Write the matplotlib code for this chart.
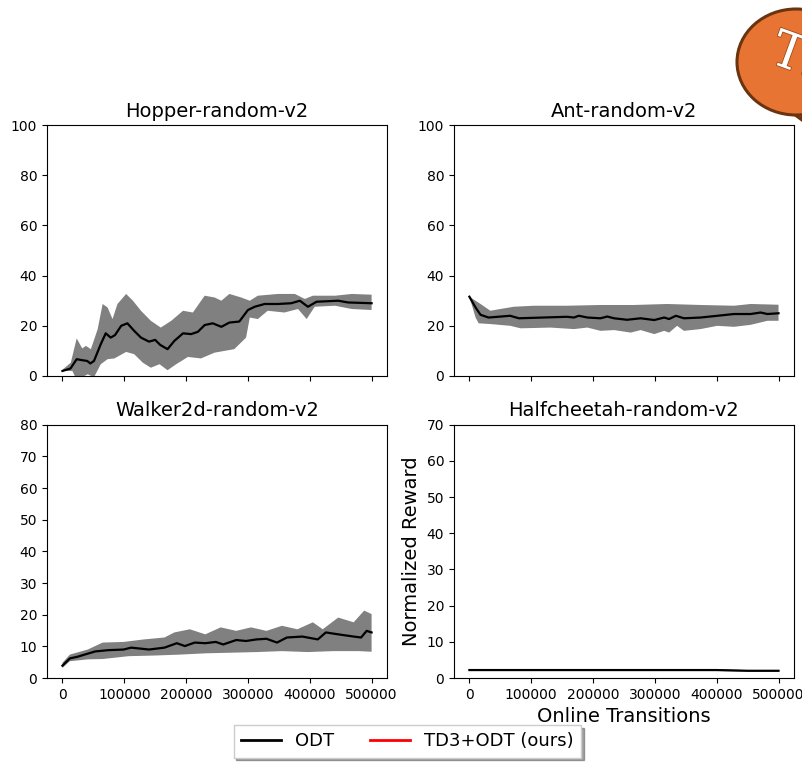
import matplotlib
matplotlib.use("Agg")
import matplotlib.pyplot as plt
import matplotlib.patheffects as pe
from matplotlib.lines import Line2D
from matplotlib.patches import Ellipse, Polygon
import numpy as np

# x values are in thousands of online transitions
hopper_mean_x = [0, 13, 23, 32, 40, 45, 51, 62, 70, 78, 85, 95, 105, 116, 127, 140, 150, 158, 170, 181,
                 195, 208, 219, 230, 243, 257, 270, 286, 300, 311, 327, 349, 370, 384, 397, 411, 446, 462, 500]
hopper_mean = [2, 3, 6.7, 6.3, 6, 5, 6, 12.7, 17, 15.3, 16.3, 20, 21, 18, 15.3, 13.7, 14.4, 12.4, 10.7, 14,
               17, 16.7, 17.6, 20.3, 21, 19.6, 21.3, 21.7, 26.3, 27.6, 28.7, 28.7, 29, 30, 27.6, 29.6, 30, 29.3, 29]
hopper_up_x = [0, 13.5, 23, 32, 38, 46, 57, 65, 73, 81, 89, 103, 114, 127, 143, 159, 176, 195, 211, 230,
               246, 257, 270, 289, 303, 316, 349, 376, 392, 405, 441, 468, 500]
hopper_up = [2.5, 5.3, 15, 11, 12, 10.7, 18.7, 28.7, 27.3, 22.7, 28.7, 32.7, 30, 26, 22, 19.3, 22, 26, 25.3, 32,
             31.3, 30, 32.7, 31.3, 30, 32, 32.7, 32.7, 30.7, 32, 32, 32.7, 32.4]
hopper_lo_x = [0, 16, 23, 41, 51, 62, 73, 84, 103, 116, 130, 143, 157, 170, 184, 203, 224, 246, 278, 297,
               303, 316, 332, 359, 381, 395, 408, 441, 468, 500]
hopper_lo = [2, 2, -1.5, 0.7, -0.5, 4.7, 6.7, 7, 9.6, 8.7, 5.3, 3.3, 4.7, 2.3, 4.7, 7.6, 7, 9.3, 10.7, 15.3,
             23.3, 22.7, 26, 25.3, 26.7, 22.7, 27.6, 28, 26.7, 26.3]

ant_mean_x = [0, 10, 18, 31, 66, 80, 158, 169, 177, 191, 212, 223, 234, 255, 277, 299, 315, 323, 334, 347,
              374, 401, 428, 455, 471, 482, 500]
ant_mean = [31.6, 27.3, 24.4, 23.3, 24, 23, 23.6, 23.3, 24, 23.3, 23, 23.7, 23, 22.4, 23, 22.3, 23.3, 22.7, 24, 23,
            23.3, 24, 24.7, 24.7, 25.3, 24.7, 25]
ant_up_x = [0, 18, 34, 50, 72, 104, 158, 212, 266, 320, 374, 428, 455, 500]
ant_up = [31.6, 28.7, 26, 26.7, 27.6, 28, 28, 28.3, 28.3, 28.7, 28.3, 28, 28.7, 28.4]
ant_lo_x = [0, 10, 15, 34, 66, 83, 131, 169, 191, 212, 234, 261, 277, 299, 315, 323, 336, 347, 374, 401,
            428, 455, 482, 500]
ant_lo = [31.6, 23.3, 21, 20.7, 20, 19, 19.3, 18.7, 19.3, 18, 18.3, 17.3, 18.3, 16.7, 18, 17.3, 20, 18, 18.7, 20,
          19.6, 20.4, 22, 22]

walker_mean_x = [0, 12, 24, 41, 53, 74, 99, 111, 140, 165, 185, 198, 214, 231, 248, 260, 281, 297, 314, 330,
                 347, 363, 388, 413, 426, 446, 471, 483, 492, 500]
walker_mean = [3.9, 6.2, 6.7, 7.7, 8.4, 8.8, 9, 9.6, 9, 9.6, 11, 10.1, 11.2, 11, 11.4, 10.6, 12, 11.7, 12.2, 12.4,
               11.2, 12.8, 13.1, 12.2, 14.4, 13.8, 13.1, 12.8, 14.9, 14.4]
walker_up_x = [0, 12, 41, 65, 99, 132, 165, 181, 206, 231, 256, 281, 305, 330, 355, 380, 405, 421, 446, 471, 488, 500]
walker_up = [4.8, 7.4, 9, 11.2, 11.4, 12.2, 12.8, 14.4, 15.4, 13.8, 16, 14.9, 16, 14.9, 16.5, 15.4, 17.6, 15.4,
             19.1, 17.6, 21.3, 20.2]
walker_lo_x = [0, 12, 41, 65, 107, 148, 190, 231, 272, 314, 355, 397, 438, 479, 500]
walker_lo = [3.2, 5.3, 5.9, 6, 6.9, 7.1, 7.4, 7.8, 8, 8.2, 8.5, 8.2, 8.5, 8.5, 8.3]

cheetah_x = [0, 100, 200, 300, 400, 450, 500]
cheetah_mean = [2.2, 2.2, 2.2, 2.2, 2.2, 2.0, 2.0]
cheetah_up = [2.4, 2.4, 2.4, 2.4, 2.45, 2.2, 2.2]
cheetah_lo = [2.0, 2.0, 2.0, 2.0, 1.95, 1.8, 1.8]

titles = ['Hopper-random-v2', 'Ant-random-v2', 'Walker2d-random-v2', 'Halfcheetah-random-v2']
ylims = [100, 100, 80, 70]

fig = plt.figure(figsize=(8.02, 7.65), dpi=100)
boxes = [[0.0586, 0.5085, 0.424, 0.328], [0.566, 0.5085, 0.424, 0.328],
         [0.0586, 0.1137, 0.424, 0.331], [0.566, 0.1137, 0.424, 0.331]]
axes = [fig.add_axes(b) for b in boxes]

data = [
    (hopper_mean_x, hopper_mean, hopper_up_x, hopper_up, hopper_lo_x, hopper_lo),
    (ant_mean_x, ant_mean, ant_up_x, ant_up, ant_lo_x, ant_lo),
    (walker_mean_x, walker_mean, walker_up_x, walker_up, walker_lo_x, walker_lo),
    (cheetah_x, cheetah_mean, cheetah_x, cheetah_up, cheetah_x, cheetah_lo),
]

for i, ax in enumerate(axes):
    mx, m, ux, u, lx, l = data[i]
    mx = np.array(mx) * 1000
    ux = np.array(ux) * 1000
    lx = np.array(lx) * 1000
    # band as a closed polygon: upper edge forward, lower edge back
    ax.fill(np.r_[ux, lx[::-1]], np.r_[u, l[::-1]], color='gray', lw=0)
    ax.plot(mx, m, color='black', lw=1.6)
    ax.set_title(titles[i], fontsize=14)
    ax.set_ylim(0, ylims[i])
    ax.set_xlim(-25000, 525000)
    ax.set_xticks([0, 100000, 200000, 300000, 400000, 500000])
    if i < 2:
        ax.set_xticklabels([])

axes[3].set_ylabel('Normalized Reward', fontsize=14)
axes[3].set_xlabel('Online Transitions', fontsize=14)

handles = [Line2D([], [], color='black', lw=2), Line2D([], [], color='red', lw=2)]
fig.legend(handles, ['ODT', 'TD3+ODT (ours)'], loc='lower center', ncol=2, fontsize=13,
           bbox_to_anchor=(0.508, -0.002), shadow=True, fancybox=False, edgecolor='#cccccc',
           handlelength=2.2, columnspacing=2.0)

# orange speech bubble clipped at the top right corner
W, H = 802.0, 765.0
tail = Polygon([(775 / W, 1 - 100 / H), (802 / W, 1 - 120 / H), (802 / W, 1 - 90 / H)],
               closed=True, transform=fig.transFigure, facecolor='#e87434', edgecolor='#6b3410',
               lw=2.2, zorder=4)
fig.patches.append(tail)
bub = Ellipse((796 / W, 1 - 62 / H), 118 / W, 106 / H, transform=fig.transFigure,
              facecolor='#e87434', edgecolor='#6b3410', lw=2.2, zorder=5)
fig.patches.append(bub)
fig.text(764 / W, 1 - 58 / H, 'TI', family='DejaVu Serif', fontsize=36,
         color='white', rotation=-20, va='center', ha='left', zorder=6,
         path_effects=[pe.withStroke(linewidth=1.2, foreground='#a04a18')])

fig.savefig('out.png', dpi=100)
